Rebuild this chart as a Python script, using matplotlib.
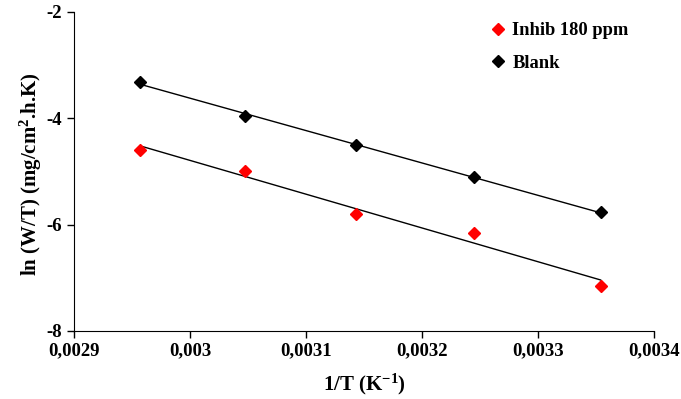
import numpy as np
import matplotlib
matplotlib.use('Agg')
import matplotlib.pyplot as plt

matplotlib.rcParams['font.family'] = 'Liberation Serif'
matplotlib.rcParams['font.weight'] = 'bold'
matplotlib.rcParams['axes.unicode_minus'] = False
matplotlib.rcParams['mathtext.fontset'] = 'custom'
matplotlib.rcParams['mathtext.rm'] = 'Liberation Serif:bold'
matplotlib.rcParams['mathtext.bf'] = 'Liberation Serif:bold'
matplotlib.rcParams['mathtext.default'] = 'bf'

# 1/T values (K^-1)
invT = [0.002957, 0.003047, 0.003143, 0.003245, 0.003354]

# ln(W/T)
blank = [-3.32, -3.96, -4.50, -5.11, -5.77]
inhib = [-4.60, -4.99, -5.80, -6.16, -7.16]

xticks = [0.0029, 0.0030, 0.0031, 0.0032, 0.0033, 0.0034]
xticklabels = ['0,0029', '0,003', '0,0031', '0,0032', '0,0033', '0,0034']
yticks = [-8, -6, -4, -2]

fig = plt.figure(figsize=(6.81, 3.99), dpi=100)
ax = fig.add_axes([0.1087, 0.171, 0.8516, 0.799])

x = np.array(invT)
# linear trendlines
for yv in [blank, inhib]:
    p = np.polyfit(x, yv, 1)
    ax.plot(x, np.polyval(p, x), color='black', lw=1)

ax.plot(invT, inhib, 'D', color='#ff0000', ms=6.5, label='Inhib 180 ppm')
ax.plot(invT, blank, 'D', color='black', ms=6.5, label='Blank')

ax.set_xlim(0.0029, 0.0034)
ax.set_ylim(-8, -2)
ax.set_xticks(xticks)
ax.set_xticklabels(xticklabels)
ax.set_yticks(yticks)
ax.tick_params(labelsize=13.5, direction='out', length=5, width=1)
for s in ['top', 'right']:
    ax.spines[s].set_visible(False)

ax.set_xlabel('1/T (K$^{-1}$)', fontsize=15, fontweight='bold', labelpad=9)
ax.set_ylabel('ln (W/T) (mg/cm$^{2}$.h.K)', fontsize=15, fontweight='bold')
ax.yaxis.set_label_coords(-0.052, 0.49)

leg = ax.legend(loc='upper right', bbox_to_anchor=(0.985, 1.02), frameon=False,
                handlelength=0.6, handletextpad=0.5, labelspacing=0.85,
                prop={'size': 13.3, 'weight': 'bold'})

fig.savefig('out.png', dpi=100)
